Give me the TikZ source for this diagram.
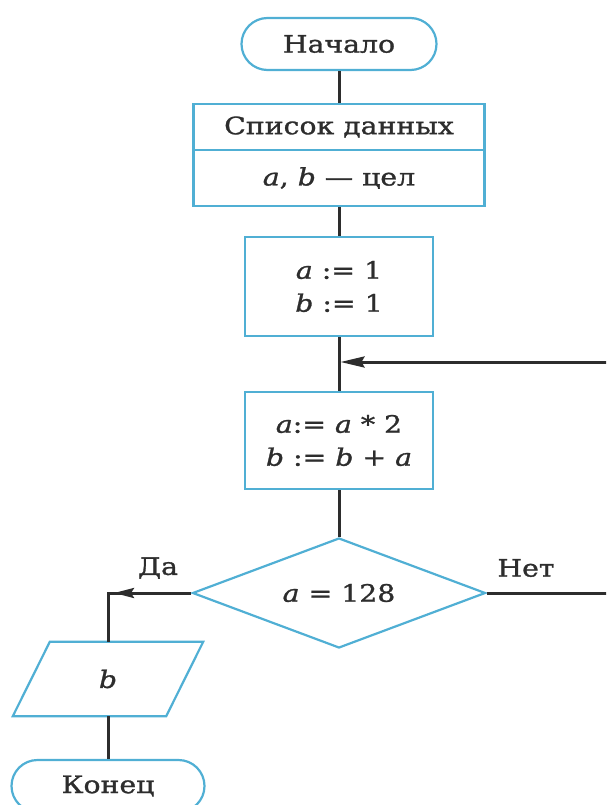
\documentclass[tikz,border=0pt]{standalone}
\usepackage{fontspec}
\setmainfont{DejaVu Serif}[FakeStretch=1.18,FakeBold=1.2]
\usetikzlibrary{shapes.geometric,arrows.meta,calc}
\definecolor{boxblue}{RGB}{80,175,212}
\definecolor{ink}{RGB}{45,45,45}
\begin{document}
\begin{tikzpicture}[x=1pt,y=-1pt,
  every node/.style={text=ink,font=\fontsize{24}{33}\selectfont},
  box/.style={draw=boxblue,line width=2.2pt,rectangle,inner sep=0pt,align=center},
  term/.style={box,rounded corners=26pt},
  link/.style={draw=ink,line width=3pt},
  bigtip/.style={-{Stealth[length=24pt,width=11pt,inset=3pt]}},
  smalltip/.style={-{Stealth[length=20pt,width=10pt,inset=3pt]}}]
\path[use as bounding box] (0,0) rectangle (606,805);
\clip (0,0) rectangle (606,805);

\node[term,minimum width=195pt,minimum height=52pt] (start) at (339,44) {Начало};
\node[box,minimum width=291pt,minimum height=46pt] (data1) at (339,127) {Список данных};
\node[box,minimum width=291pt,minimum height=56pt] (data2) at (339,178) {\textit{a}, \textit{b} — цел};
\node[box,minimum width=188pt,minimum height=99pt] (init) at (339,286.5) {\textit{a} := 1\\\textit{b} := 1};
\node[box,minimum width=188pt,minimum height=97pt] (body) at (339,440.5) {\textit{a}:= \textit{a} * 2\\\textit{b} := \textit{b} + \textit{a}};
\node[diamond,aspect=2.66,draw=boxblue,line width=2.2pt,inner sep=0pt,minimum width=293pt,minimum height=110pt] (dec) at (339,593) {\textit{a} = 128};
\node[minimum width=153pt,minimum height=74pt,inner sep=0pt] (out) at (108,679) {\textit{b}};
\draw[boxblue,line width=2.2pt] ($(out.south west)+(-18.5,0)$) -- ($(out.south east)+(-18.5,0)$) -- ($(out.north east)+(18.5,0)$) -- ($(out.north west)+(18.5,0)$) -- cycle;
\node[term,minimum width=193pt,minimum height=52pt] (stop) at (108,786) {Конец};

\node (yes) at (158,568) {Да};
\node (no) at (526,568) {Нет};

\coordinate (junc) at (340.5,362);
\coordinate (loopT) at (630,362);
\coordinate (yesC) at (dec.west -| out.north);
\coordinate (yesTip) at ($(yesC)+(6,0)$);

\draw[link] (start.south) -- (data1.north);
\draw[link] (data2.south) -- (init.north);
\draw[link] (init.south) -- (body.north);
\draw[link] (body.south) -- (dec.north);
\draw[link] (dec.east) -- (dec.east -| loopT) -- (loopT);
\draw[link,bigtip] (loopT) -- (junc);
\draw[link] (dec.west) -- (yesC) -- (out.north);
\draw[link,smalltip] ($(yesTip)+(30,0)$) -- (yesTip);
\draw[link] (out.south) -- (stop.north);
\end{tikzpicture}
\end{document}
